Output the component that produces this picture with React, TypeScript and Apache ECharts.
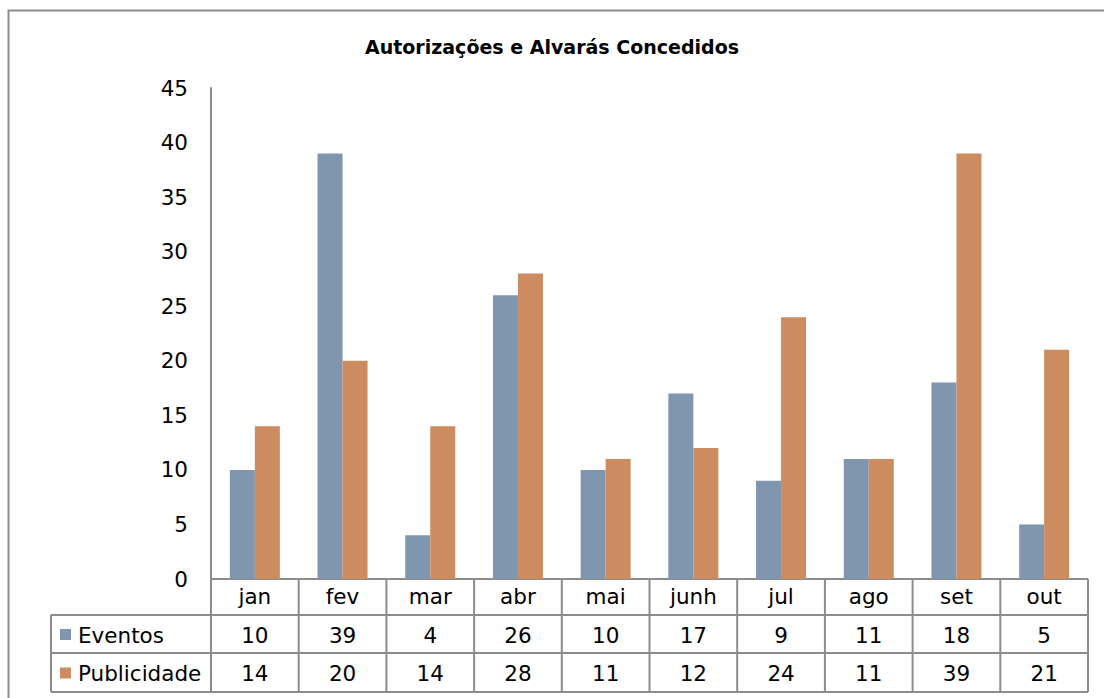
import React, { useEffect, useRef } from "react";
import * as echarts from "echarts";

const title = "Autorizações e Alvarás Concedidos";
const categories = ["jan", "fev", "mar", "abr", "mai", "junh", "jul", "ago", "set", "out"];
const seriesNames = ["Eventos", "Publicidade"];
const eventos = [10, 39, 4, 26, 10, 17, 9, 11, 18, 5];
const publicidade = [14, 20, 14, 28, 11, 12, 24, 11, 39, 21];
const yMin = 0;
const yMax = 45;
const yStep = 5;

const W = 1104;
const H = 698;
const GRID_LEFT = 211;
const GRID_RIGHT = 16;
const GRID_TOP = 88;
const GRID_BOTTOM_Y = 579;
const ROW_Y = [579, 615, 653, 692];
const TABLE_LEFT = 51;
const COLORS = ["#7f96ae", "#cd8c5f"];
const LINE = "#8c8c8c";
const FONT = "DejaVu Sans";
const FS = 21.5;

export default function App() {
  const ref = useRef<HTMLDivElement>(null);
  useEffect(() => {
    document.body.style.margin = "0";
    const chart = echarts.init(ref.current!, null, { renderer: "svg" });
    const values = [eventos, publicidade];
    const option: any = {
      animation: false,
      backgroundColor: "#ffffff",
      title: {
        text: title,
        left: "center",
        top: 32,
        textStyle: { fontFamily: FONT, fontSize: 19, fontWeight: "bold", color: "#000" },
      },
      grid: { left: GRID_LEFT, right: GRID_RIGHT, top: GRID_TOP, bottom: H - GRID_BOTTOM_Y, containLabel: false },
      xAxis: {
        type: "category",
        data: categories,
        axisLine: { show: false },
        axisTick: { show: false },
        axisLabel: { fontFamily: FONT, fontSize: FS, color: "#000", margin: 6, interval: 0 },
        splitLine: { show: false },
      },
      yAxis: {
        type: "value",
        min: yMin,
        max: yMax,
        interval: yStep,
        axisLine: { show: true, lineStyle: { color: LINE, width: 2 } },
        axisTick: { show: false },
        axisLabel: { fontFamily: FONT, fontSize: FS, color: "#000", margin: 23 },
        splitLine: { show: false },
      },
      series: seriesNames.map((name, i) => ({
        type: "bar",
        name,
        data: values[i],
        barWidth: 25,
        barGap: "0%",
        itemStyle: { color: COLORS[i] },
      })),
    };
    chart.setOption(option);

    const left = GRID_LEFT;
    const right = W - GRID_RIGHT;
    const n = categories.length;
    const band = (right - left) / n;
    const xs = categories.map((c) => chart.convertToPixel({ xAxisIndex: 0 }, c) as number);
    const lineStyle = { stroke: LINE, lineWidth: 2 };
    const g: any[] = [];
    g.push({
      type: "rect",
      shape: { x: 8.5, y: 10.5, width: 1300, height: 900 },
      style: { fill: "none", stroke: LINE, lineWidth: 2 },
      silent: true,
    });
    g.push({ type: "line", shape: { x1: left, y1: ROW_Y[0], x2: right, y2: ROW_Y[0] }, style: lineStyle });
    for (let r = 1; r < ROW_Y.length; r++) {
      g.push({ type: "line", shape: { x1: TABLE_LEFT, y1: ROW_Y[r], x2: right, y2: ROW_Y[r] }, style: lineStyle });
    }
    g.push({ type: "line", shape: { x1: left, y1: ROW_Y[0], x2: left, y2: ROW_Y[3] }, style: lineStyle });
    g.push({ type: "line", shape: { x1: TABLE_LEFT, y1: ROW_Y[1], x2: TABLE_LEFT, y2: ROW_Y[3] }, style: lineStyle });
    for (let i = 1; i <= n; i++) {
      const x = left + band * i;
      g.push({ type: "line", shape: { x1: x, y1: ROW_Y[0], x2: x, y2: ROW_Y[3] }, style: lineStyle });
    }
    seriesNames.forEach((name, s) => {
      const cy = (ROW_Y[s + 1] + ROW_Y[s + 2]) / 2 + 1;
      g.push({
        type: "rect",
        shape: { x: 60, y: cy - 6, width: 11, height: 11 },
        style: { fill: COLORS[s] },
      });
      g.push({
        type: "text",
        x: 78,
        y: cy,
        style: { text: name, font: `${FS}px "${FONT}"`, fill: "#000", textAlign: "left", textVerticalAlign: "middle" },
      });
      values[s].forEach((v, i) => {
        g.push({
          type: "text",
          x: xs[i],
          y: cy,
          style: { text: String(v), font: `${FS}px "${FONT}"`, fill: "#000", textAlign: "center", textVerticalAlign: "middle" },
        });
      });
    });
    chart.setOption({ graphic: g });
    return () => chart.dispose();
  }, []);
  return <div ref={ref} style={{ position: "fixed", left: 0, top: 0, width: W, height: H }} />;
}
